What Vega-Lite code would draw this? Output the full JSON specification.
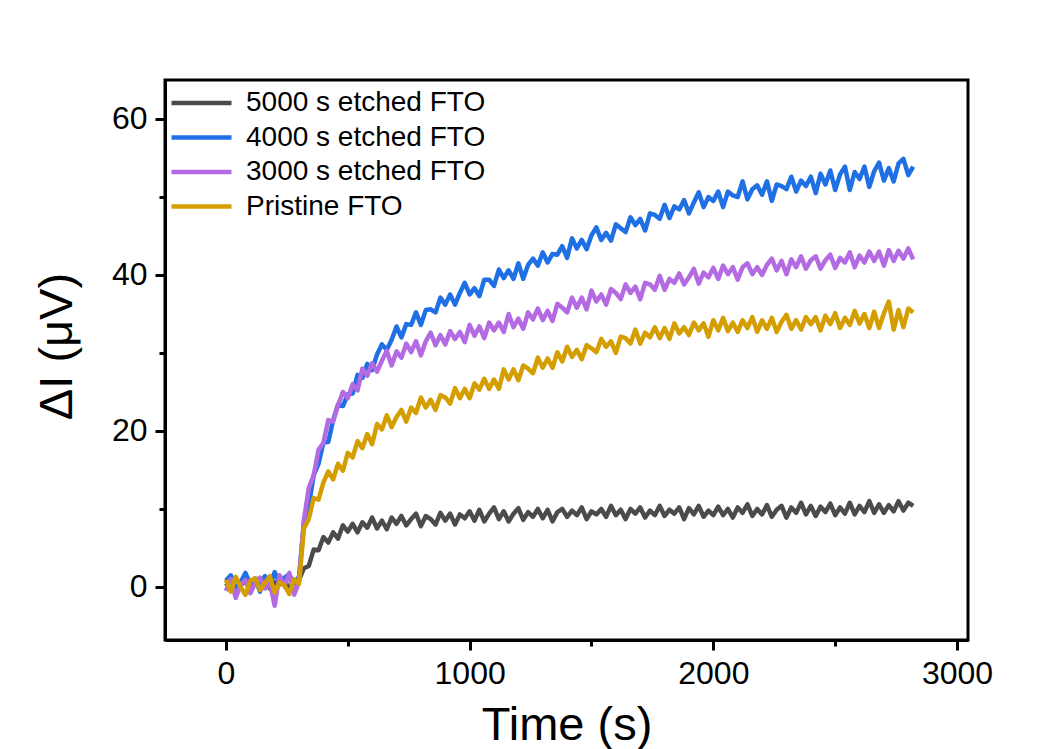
{
  "$schema": "https://vega.github.io/schema/vega-lite/v6.json",
  "width": 803,
  "height": 560,
  "autosize": {"type": "none"},
  "padding": {"left": 165, "top": 80, "right": 95, "bottom": 109},
  "background": "white",
  "config": {
    "view": {"stroke": "black", "strokeWidth": 3},
    "font": "Liberation Sans",
    "axis": {
      "domainColor": "black", "domainWidth": 3, "tickColor": "black", "tickWidth": 3,
      "labelColor": "black", "titleColor": "black", "labelFont": "Liberation Sans", "titleFont": "Liberation Sans",
      "labelFontSize": 32, "titleFontSize": 47, "titleFontWeight": "normal", "grid": false
    }
  },
  "data": {"values": [
    {"t":0,"a":0.5,"b":0.8,"c":-0.5,"d":0.9},
    {"t":20,"a":-0.3,"b":1.5,"c":1.0,"d":-0.6},
    {"t":40,"a":1.2,"b":-0.2,"c":-1.4,"d":1.3},
    {"t":60,"a":0.2,"b":0.6,"c":0.3,"d":0.0},
    {"t":80,"a":0.8,"b":1.8,"c":0.9,"d":-1.0},
    {"t":100,"a":-0.5,"b":0.3,"c":-0.8,"d":0.8},
    {"t":120,"a":0.9,"b":1.1,"c":0.5,"d":1.1},
    {"t":140,"a":0.1,"b":-0.6,"c":1.2,"d":-0.4},
    {"t":160,"a":1.3,"b":1.4,"c":-0.2,"d":0.5},
    {"t":180,"a":-0.2,"b":0.2,"c":0.6,"d":1.4},
    {"t":200,"a":0.6,"b":1.9,"c":-2.4,"d":-0.7},
    {"t":220,"a":0.3,"b":0.5,"c":1.5,"d":0.6},
    {"t":240,"a":1.0,"b":1.2,"c":0.1,"d":0.2},
    {"t":260,"a":-0.4,"b":1.6,"c":1.8,"d":-0.9},
    {"t":280,"a":0.7,"b":0.4,"c":-1.0,"d":1.0},
    {"t":300,"a":0.9,"b":1.3,"c":0.7,"d":0.4},
    {"t":320,"a":2.4,"b":8.3,"c":8.6,"d":7.5},
    {"t":340,"a":2.7,"b":10.4,"c":12.7,"d":8.7},
    {"t":360,"a":4.8,"b":14.3,"c":14.3,"d":11.4},
    {"t":380,"a":4.7,"b":15.8,"c":17.6,"d":11.2},
    {"t":400,"a":6.4,"b":18.5,"c":18.5,"d":13.4},
    {"t":420,"a":5.7,"b":18.6,"c":21.4,"d":14.8},
    {"t":440,"a":7.0,"b":21.4,"c":21.2,"d":13.8},
    {"t":460,"a":6.2,"b":23.4,"c":23.3,"d":15.8},
    {"t":480,"a":7.9,"b":23.2,"c":25.0,"d":14.9},
    {"t":500,"a":7.1,"b":24.7,"c":24.2,"d":17.2},
    {"t":520,"a":8.1,"b":24.8,"c":26.0,"d":16.6},
    {"t":540,"a":7.0,"b":27.2,"c":25.2,"d":18.7},
    {"t":560,"a":8.3,"b":26.8,"c":28.0,"d":17.8},
    {"t":580,"a":7.6,"b":28.6,"c":27.1,"d":19.6},
    {"t":600,"a":8.9,"b":27.8,"c":28.7,"d":18.3},
    {"t":620,"a":7.5,"b":29.8,"c":27.6,"d":20.9},
    {"t":640,"a":8.5,"b":31.1,"c":29.0,"d":20.2},
    {"t":660,"a":7.4,"b":30.4,"c":30.3,"d":22.0},
    {"t":680,"a":8.9,"b":31.7,"c":28.4,"d":20.5},
    {"t":700,"a":8.1,"b":33.4,"c":30.2,"d":21.8},
    {"t":720,"a":9.1,"b":32.0,"c":29.4,"d":22.7},
    {"t":740,"a":7.9,"b":33.7,"c":31.2,"d":21.2},
    {"t":760,"a":8.7,"b":33.6,"c":30.1,"d":23.0},
    {"t":780,"a":9.4,"b":35.2,"c":31.5,"d":22.3},
    {"t":800,"a":7.8,"b":33.6,"c":29.7,"d":24.3},
    {"t":820,"a":9.1,"b":35.5,"c":31.5,"d":23.0},
    {"t":840,"a":8.7,"b":35.6,"c":32.6,"d":24.0},
    {"t":860,"a":8.0,"b":35.2,"c":31.0,"d":22.7},
    {"t":880,"a":9.5,"b":37.1,"c":32.3,"d":24.6},
    {"t":900,"a":8.5,"b":36.2,"c":31.1,"d":24.3},
    {"t":920,"a":9.4,"b":37.5,"c":32.8,"d":23.5},
    {"t":940,"a":8.0,"b":36.2,"c":31.8,"d":25.5},
    {"t":960,"a":9.3,"b":37.7,"c":32.7,"d":24.2},
    {"t":980,"a":8.8,"b":39.0,"c":31.4,"d":25.4},
    {"t":1000,"a":9.7,"b":37.5,"c":33.6,"d":24.2},
    {"t":1020,"a":8.5,"b":38.3,"c":32.2,"d":26.1},
    {"t":1040,"a":9.9,"b":37.3,"c":33.4,"d":25.3},
    {"t":1060,"a":8.4,"b":39.4,"c":31.9,"d":26.7},
    {"t":1080,"a":9.4,"b":39.4,"c":33.9,"d":25.4},
    {"t":1100,"a":10.2,"b":38.6,"c":32.9,"d":26.6},
    {"t":1120,"a":8.7,"b":40.7,"c":33.9,"d":25.4},
    {"t":1140,"a":9.7,"b":39.6,"c":32.7,"d":27.9},
    {"t":1160,"a":8.4,"b":40.6,"c":35.0,"d":26.6},
    {"t":1180,"a":9.4,"b":39.5,"c":33.3,"d":27.9},
    {"t":1200,"a":10.1,"b":41.5,"c":34.4,"d":26.5},
    {"t":1220,"a":8.6,"b":39.5,"c":33.1,"d":28.4},
    {"t":1240,"a":9.6,"b":41.3,"c":35.2,"d":28.0},
    {"t":1260,"a":9.0,"b":42.1,"c":34.3,"d":27.4},
    {"t":1280,"a":10.0,"b":41.2,"c":35.7,"d":29.4},
    {"t":1300,"a":8.8,"b":42.9,"c":34.2,"d":28.1},
    {"t":1320,"a":9.9,"b":41.6,"c":35.4,"d":29.3},
    {"t":1340,"a":8.4,"b":42.7,"c":34.1,"d":28.1},
    {"t":1360,"a":9.6,"b":42.6,"c":36.3,"d":30.1},
    {"t":1380,"a":10.0,"b":43.7,"c":35.8,"d":28.9},
    {"t":1400,"a":9.0,"b":42.2,"c":35.2,"d":30.8},
    {"t":1420,"a":9.8,"b":44.7,"c":37.1,"d":29.5},
    {"t":1440,"a":9.2,"b":43.4,"c":35.8,"d":30.4},
    {"t":1460,"a":10.2,"b":44.5,"c":37.1,"d":29.2},
    {"t":1480,"a":8.7,"b":43.3,"c":35.6,"d":31.0},
    {"t":1500,"a":9.7,"b":45.1,"c":38.0,"d":30.6},
    {"t":1520,"a":9.3,"b":46.1,"c":36.6,"d":30.1},
    {"t":1540,"a":10.0,"b":44.5,"c":37.5,"d":31.8},
    {"t":1560,"a":9.0,"b":45.4,"c":36.2,"d":30.8},
    {"t":1580,"a":10.4,"b":44.4,"c":38.2,"d":31.5},
    {"t":1600,"a":9.2,"b":46.5,"c":37.7,"d":30.0},
    {"t":1620,"a":9.9,"b":46.0,"c":36.9,"d":32.1},
    {"t":1640,"a":8.7,"b":45.5,"c":38.8,"d":31.9},
    {"t":1660,"a":10.0,"b":47.4,"c":37.7,"d":31.2},
    {"t":1680,"a":9.4,"b":46.4,"c":38.5,"d":33.0},
    {"t":1700,"a":10.2,"b":47.2,"c":36.9,"d":31.2},
    {"t":1720,"a":8.9,"b":45.7,"c":39.0,"d":32.6},
    {"t":1740,"a":9.8,"b":47.9,"c":38.8,"d":32.0},
    {"t":1760,"a":9.2,"b":47.7,"c":38.1,"d":33.3},
    {"t":1780,"a":10.4,"b":47.2,"c":39.9,"d":31.9},
    {"t":1800,"a":9.1,"b":49.0,"c":38.1,"d":33.2},
    {"t":1820,"a":9.9,"b":47.3,"c":39.5,"d":31.8},
    {"t":1840,"a":9.4,"b":48.8,"c":39.0,"d":33.8},
    {"t":1860,"a":10.2,"b":48.4,"c":40.2,"d":32.5},
    {"t":1880,"a":8.7,"b":49.6,"c":38.8,"d":33.3},
    {"t":1900,"a":10.1,"b":47.9,"c":39.7,"d":32.3},
    {"t":1920,"a":9.3,"b":49.3,"c":40.8,"d":33.9},
    {"t":1940,"a":10.4,"b":50.6,"c":38.9,"d":32.9},
    {"t":1960,"a":9.0,"b":48.7,"c":40.3,"d":33.8},
    {"t":1980,"a":9.8,"b":50.0,"c":39.7,"d":32.1},
    {"t":2000,"a":9.2,"b":49.5,"c":40.9,"d":34.2},
    {"t":2020,"a":10.3,"b":50.7,"c":39.5,"d":32.9},
    {"t":2040,"a":9.2,"b":48.7,"c":41.2,"d":34.5},
    {"t":2060,"a":10.0,"b":50.7,"c":40.1,"d":32.8},
    {"t":2080,"a":8.9,"b":50.2,"c":41.0,"d":33.9},
    {"t":2100,"a":10.2,"b":50.0,"c":39.4,"d":32.7},
    {"t":2120,"a":9.5,"b":52.0,"c":41.0,"d":34.2},
    {"t":2140,"a":10.6,"b":49.7,"c":41.5,"d":33.2},
    {"t":2160,"a":9.1,"b":51.0,"c":40.1,"d":34.6},
    {"t":2180,"a":10.0,"b":51.5,"c":41.0,"d":32.7},
    {"t":2200,"a":9.3,"b":50.3,"c":40.0,"d":34.2},
    {"t":2220,"a":10.5,"b":52.0,"c":41.3,"d":33.1},
    {"t":2240,"a":9.0,"b":49.5,"c":42.1,"d":34.5},
    {"t":2260,"a":9.9,"b":51.6,"c":40.6,"d":32.7},
    {"t":2280,"a":10.4,"b":51.4,"c":41.8,"d":34.0},
    {"t":2300,"a":8.9,"b":51.0,"c":40.1,"d":34.9},
    {"t":2320,"a":10.2,"b":52.6,"c":42.0,"d":33.1},
    {"t":2340,"a":9.5,"b":50.7,"c":41.0,"d":34.2},
    {"t":2360,"a":10.8,"b":52.1,"c":42.4,"d":33.0},
    {"t":2380,"a":9.3,"b":51.4,"c":40.8,"d":34.6},
    {"t":2400,"a":10.4,"b":52.6,"c":41.9,"d":33.7},
    {"t":2420,"a":9.1,"b":50.5,"c":42.4,"d":34.6},
    {"t":2440,"a":10.3,"b":53.0,"c":40.8,"d":32.9},
    {"t":2460,"a":9.6,"b":51.6,"c":41.9,"d":34.8},
    {"t":2480,"a":10.7,"b":53.4,"c":42.6,"d":33.7},
    {"t":2500,"a":9.2,"b":50.9,"c":40.9,"d":35.1},
    {"t":2520,"a":10.2,"b":52.9,"c":42.2,"d":33.2},
    {"t":2540,"a":9.4,"b":53.9,"c":41.6,"d":34.5},
    {"t":2560,"a":10.8,"b":50.9,"c":42.9,"d":33.6},
    {"t":2580,"a":9.3,"b":53.2,"c":41.0,"d":35.4},
    {"t":2600,"a":10.4,"b":52.3,"c":42.5,"d":33.8},
    {"t":2620,"a":9.6,"b":53.9,"c":41.6,"d":35.0},
    {"t":2640,"a":11.0,"b":51.3,"c":43.0,"d":33.2},
    {"t":2660,"a":9.5,"b":53.3,"c":41.8,"d":35.3},
    {"t":2680,"a":10.6,"b":54.4,"c":43.0,"d":33.2},
    {"t":2700,"a":9.5,"b":52.1,"c":41.2,"d":35.1},
    {"t":2720,"a":10.5,"b":53.7,"c":43.2,"d":36.6},
    {"t":2740,"a":9.7,"b":52.0,"c":41.8,"d":33.0},
    {"t":2760,"a":11.0,"b":54.3,"c":43.1,"d":35.5},
    {"t":2780,"a":9.8,"b":54.9,"c":42.1,"d":33.3},
    {"t":2800,"a":10.8,"b":52.8,"c":43.4,"d":35.7},
    {"t":2820,"a":10.4,"b":53.9,"c":42.0,"d":35.2}
  ]},
  "transform": [{"fold": ["a", "b", "c", "d"], "as": ["series", "v"]}],
  "mark": {"type": "line", "strokeWidth": 4.5, "strokeJoin": "round", "clip": true},
  "encoding": {
    "x": {
      "field": "t", "type": "quantitative",
      "scale": {"domain": [-250, 3045], "nice": false, "zero": false},
      "axis": {
        "title": "Time (s)",
        "format": "d",
        "values": [0, 500, 1000, 1500, 2000, 2500, 3000],
        "labelExpr": "datum.value % 1000 === 0 ? datum.label : ''",
        "tickSize": {"condition": {"test": "datum.value % 1000 === 0", "value": 10}, "value": 6},
        "labelFontSize": 32,
        "titleFontSize": 47,
        "labelPadding": 8,
        "titlePadding": 13,
        "labelFlush": false
      }
    },
    "y": {
      "field": "v", "type": "quantitative",
      "scale": {"domain": [-6.8, 65], "nice": false, "zero": false},
      "axis": {
        "title": "ΔI (μV)",
        "values": [0, 10, 20, 30, 40, 50, 60],
        "labelExpr": "datum.value % 20 === 0 ? datum.label : ''",
        "tickSize": {"condition": {"test": "datum.value % 20 === 0", "value": 10}, "value": 6},
        "labelFontSize": 32,
        "titleFontSize": 47,
        "labelPadding": 8,
        "titlePadding": 30,
        "titleY": 266,
        "labelFlush": false
      }
    },
    "color": {
      "field": "series", "type": "nominal",
      "scale": {"domain": ["a", "b", "c", "d"], "range": ["#4b4b4b", "#1f6fe5", "#b36ae2", "#d49e00"]},
      "legend": {
        "title": null,
        "orient": "none",
        "legendX": 4,
        "legendY": 9,
        "padding": 0,
        "symbolType": "stroke",
        "symbolSize": 3600,
        "symbolStrokeWidth": 4.5,
        "clipHeight": 28,
        "labelFont": "Liberation Sans",
        "labelFontSize": 28,
        "labelColor": "black",
        "labelOffset": 12,
        "labelLimit": 500,
        "rowPadding": 6.5,
        "labelExpr": "datum.value == 'a' ? '5000 s etched FTO' : datum.value == 'b' ? '4000 s etched FTO' : datum.value == 'c' ? '3000 s etched FTO' : 'Pristine FTO'"
      }
    }
  }
}
